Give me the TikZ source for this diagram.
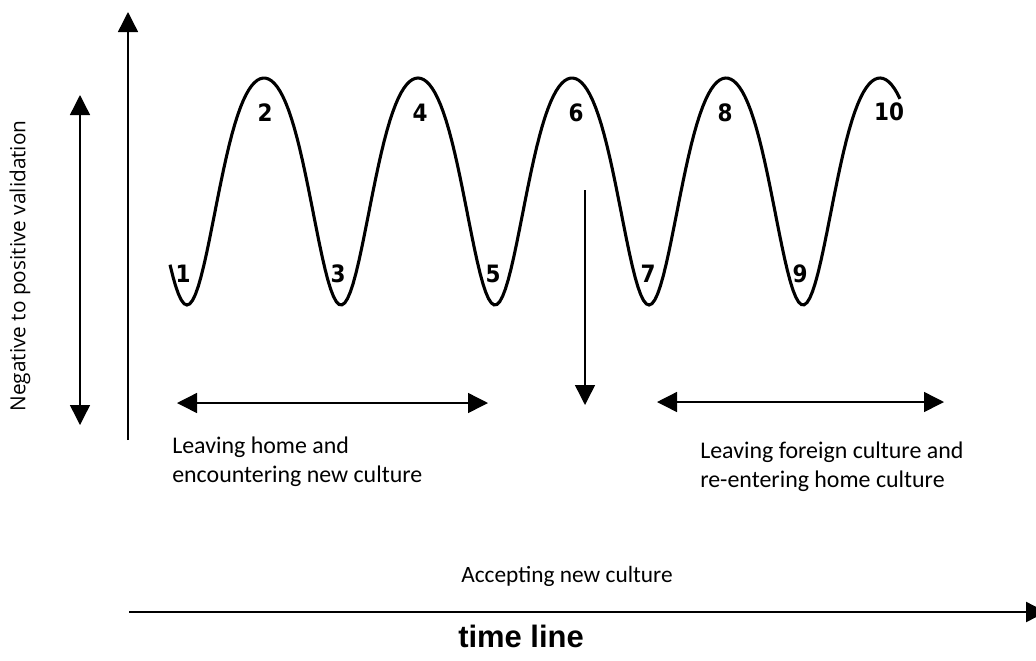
\documentclass[tikz,border=0pt]{standalone}
\usepackage{fontspec}
\setmainfont{Carlito}
\newfontfamily\axisfont{Open Sans}
\newfontfamily\numfont[FakeStretch=0.9]{DejaVu Sans}
\newfontfamily\timefont{Liberation Sans}
\usetikzlibrary{arrows.meta}

\begin{document}
\begin{tikzpicture}[x=0.025cm,y=-0.025cm,
        head/.style={-{Triangle[length=0.5cm,width=0.5cm]}},
        twohead/.style={{Triangle[length=0.5cm,width=0.5cm]}-{Triangle[length=0.5cm,width=0.5cm]}},
        num/.style={font=\numfont\bfseries\fontsize{17}{17}\selectfont,inner sep=0pt},
        caption/.style={font=\fontsize{17}{20}\selectfont,align=left,inner sep=0pt,anchor=north west}]
    \useasboundingbox (0,0) rectangle (1036,660);
    % axes
    \coordinate (ybot) at (128,440);
    \coordinate (ytop) at (128,12);
    \coordinate (tstart) at (129,612);
    \coordinate (tend) at (1046,612);
    \draw[head,line width=1pt] (ybot) -- (ytop);
    \draw[head,line width=1.7pt] (tstart) -- (tend);
    \coordinate (vtop) at (80,95);
    \coordinate (vbot) at (80,425);
    \draw[twohead,line width=1pt] (vtop) -- (vbot);
    \node[font=\axisfont\fontsize{14.8}{14.8}\selectfont,rotate=90] (valid) at (20,266) {Negative to positive validation};
    % the wave
    \draw[line width=2.2pt] plot[domain=170:900,samples=260]
        (\x,{191.5+113.5*cos(2.33766*(\x-187)+15.76*sin(2.33766*(\x-187)))});
    \foreach \n/\px/\py in {1/183/274,2/265/113,3/338/274,4/420/113,5/493/274,6/576/113,7/648/274,8/725/113,9/800/274,10/889/112}
        \node[num] (n\n) at (\px,\py) {\n};
    % phase arrows
    \coordinate (dtop) at (585,190);
    \coordinate (dbot) at (585,405);
    \draw[head,line width=1pt] (dtop) -- (dbot);
    \coordinate (la) at (177,403);
    \coordinate (lb) at (488,403);
    \draw[twohead,line width=1pt] (la) -- (lb);
    \coordinate (ra) at (657,402);
    \coordinate (rb) at (944,402);
    \draw[twohead,line width=1pt] (ra) -- (rb);
    \begin{scope}
        \clip (150,420) rectangle (540,487);
        \node[caption] (leave) at (172,437) {Leaving home and\\encountering new culture};
    \end{scope}
    \node[caption] (back) at (700,442) {Leaving foreign culture and\\re-entering home culture};
    \node[font=\fontsize{16.6}{16.6}\selectfont,anchor=base] (accept) at (567,582) {Accepting new culture};
    \node[font=\timefont\bfseries\fontsize{22}{22}\selectfont,anchor=base] (time) at (521,647) {time line};
\end{tikzpicture}
\end{document}
